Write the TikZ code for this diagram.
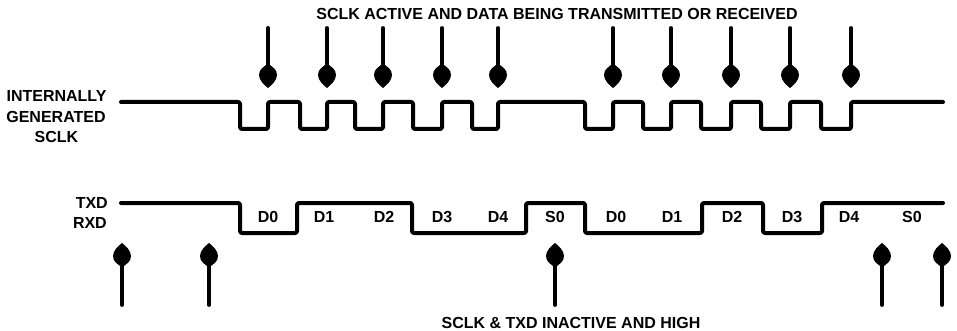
\documentclass[tikz,border=0pt]{standalone}
\usepackage{fontspec}
\setmainfont{Liberation Sans}
\begin{document}
\begin{tikzpicture}[x=1pt,y=-1pt,
  sig/.style={line width=4pt, line join=round, line cap=round, rounded corners=2pt},
  shaft/.style={line width=3.8pt, line cap=round},
  lbl/.style={font=\fontsize{16}{18}\selectfont\bfseries, inner sep=0pt, anchor=base},
  droplet/.pic={
    \fill (0,0) .. controls (-4,-3) and (-9,-8) .. (-9,-13)
          .. controls (-9,-19) and (-4,-21) .. (-2,-23) -- (2,-23)
          .. controls (4,-21) and (9,-19) .. (9,-13)
          .. controls (9,-8) and (4,-3) .. (0,0) -- cycle;
  }]
\useasboundingbox (0,0) rectangle (957,331);
\fill[white] (0,0) rectangle (957,331);

% titles
\node[lbl] (active) at (557,20) {SCLK ACTIVE AND DATA BEING TRANSMITTED OR RECEIVED};
\node[lbl] (inactive) at (571,328) {SCLK \& TXD INACTIVE AND HIGH};

% signal names
\node[lbl] (int) at (56.5,102) {INTERNALLY};
\node[lbl] (gen) at (56,123) {GENERATED};
\node[lbl] (sclk) at (56.5,143) {SCLK};
\node[lbl, anchor=base east] (txd) at (108,208) {TXD};
\node[lbl, anchor=base east] (rxd) at (107,228) {RXD};

% internally generated serial clock
\draw[sig] (121,102) -- (240,102) -- (240,129) -- (268,129) -- (268,102)
  -- (300,102) -- (300,129) -- (327,129) -- (327,102)
  -- (355,102) -- (355,129) -- (383,129) -- (383,102)
  -- (413,102) -- (413,129) -- (442,129) -- (442,102)
  -- (472,102) -- (472,129) -- (498,129) -- (498,102)
  -- (585,102) -- (585,129) -- (613,129) -- (613,102)
  -- (643,102) -- (643,129) -- (671,129) -- (671,102)
  -- (701,102) -- (701,129) -- (731,129) -- (731,102)
  -- (761,102) -- (761,129) -- (790,129) -- (790,102)
  -- (821,102) -- (821,129) -- (851,129) -- (851,102)
  -- (943,102);

% serial data line
\draw[sig] (121,203) -- (240,203) -- (240,233) -- (297,233) -- (297,203)
  -- (412,203) -- (412,233) -- (526,233) -- (526,203)
  -- (585,203) -- (585,233) -- (702,233) -- (702,203)
  -- (763,203) -- (763,233) -- (822,233) -- (822,203)
  -- (943,203);

% bit labels
\foreach \x/\t [count=\i] in {268/D0,324/D1,384/D2,442/D3,498/D4,555/S0,
    616/D0,672/D1,732/D2,792/D3,849/D4,912/S0}
  \node[lbl] (bit\i) at (\x,222) {\t};

% clock edge markers
\foreach \x [count=\i] in {268,327,383,442,498,613,671,731,790,851} {
  \coordinate (dn\i) at (\x,28);
  \coordinate (dtip\i) at (\x,88);
  \draw[shaft] (dn\i) -- (\x,68);
  \pic at (dtip\i) {droplet};
}

% idle markers
\foreach \x [count=\i] in {122,209,555,882,942} {
  \coordinate (up\i) at (\x,305);
  \coordinate (utip\i) at (\x,243);
  \draw[shaft] (up\i) -- (\x,262);
  \pic[rotate=180] at (utip\i) {droplet};
}
\end{tikzpicture}
\end{document}
